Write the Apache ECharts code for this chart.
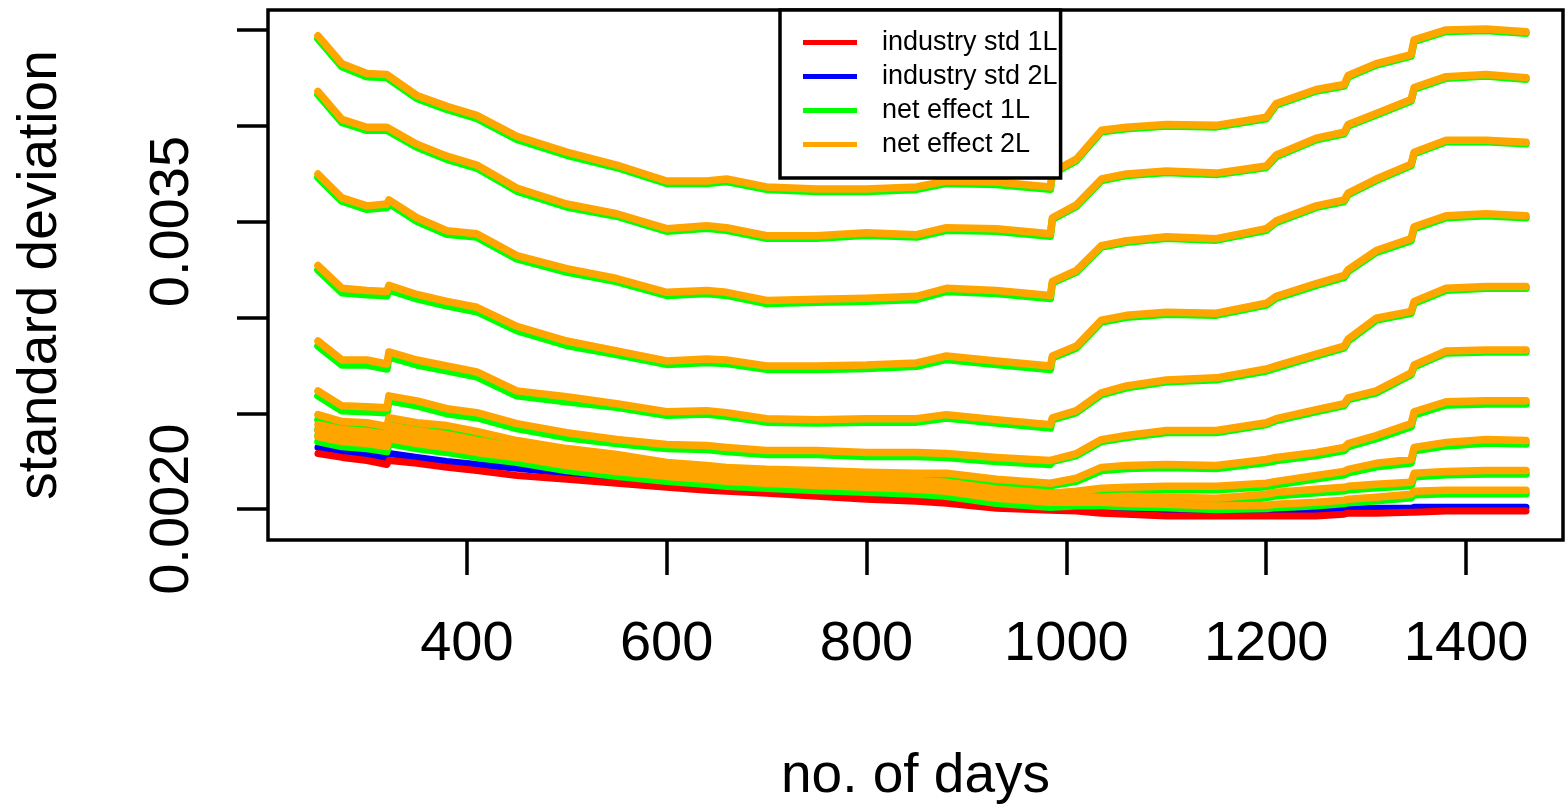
<!DOCTYPE html>
<html><head><meta charset="utf-8">
<script src="https://cdn.jsdelivr.net/npm/echarts@6/dist/echarts.min.js"></script>
<style>html,body{margin:0;padding:0;background:#fff}#c{width:1565px;height:809px}</style>
</head><body><div id="c"></div>
<script>
// x values: no. of days
const days = [251,275,300,320,322,350,380,410,450,500,550,600,640,660,700,750,800,850,880,930,984,986,1010,1035,1060,1100,1150,1200,1210,1250,1278,1282,1310,1345,1348,1380,1420,1460];
const xTicks = [400,600,800,1000,1200,1400];
const yTicks = [0.0020,0.0025,0.0030,0.0035,0.0040,0.0045];
const yLabels = [0.0020,0.0035];

// industry std
const industryStd1L = [0.002290,0.002270,0.002254,0.002233,0.002254,0.002239,0.002218,0.002202,0.002176,0.002156,0.002135,0.002114,0.002099,0.002093,0.002083,0.002067,0.002052,0.002041,0.002031,0.002005,0.001995,0.001995,0.001990,0.001979,0.001974,0.001964,0.001964,0.001964,0.001964,0.001964,0.001974,0.001979,0.001979,0.001984,0.001984,0.001990,0.001990,0.001990];
const industryStd2L = [0.002322,0.002301,0.002285,0.002265,0.002290,0.002270,0.002249,0.002233,0.002213,0.002187,0.002161,0.002140,0.002124,0.002114,0.002109,0.002093,0.002078,0.002067,0.002057,0.002026,0.002016,0.002016,0.002010,0.002005,0.002000,0.001990,0.001990,0.001990,0.001990,0.001990,0.001995,0.002000,0.002005,0.002005,0.002010,0.002010,0.002010,0.002010];

// net effect 1L (green)
const net1L_1 = [0.004453,0.004308,0.004256,0.004251,0.004251,0.004142,0.004085,0.004038,0.003929,0.003846,0.003782,0.003699,0.003699,0.003709,0.003668,0.003657,0.003657,0.003668,0.003699,0.003694,0.003668,0.003750,0.003818,0.003968,0.003984,0.003999,0.003994,0.004036,0.004108,0.004181,0.004207,0.004254,0.004316,0.004363,0.004440,0.004492,0.004497,0.004482];
const net1L_2 = [0.004163,0.004017,0.003976,0.003976,0.003986,0.003888,0.003825,0.003779,0.003659,0.003576,0.003528,0.003450,0.003465,0.003455,0.003413,0.003413,0.003429,0.003419,0.003455,0.003450,0.003424,0.003512,0.003579,0.003714,0.003740,0.003756,0.003745,0.003782,0.003839,0.003927,0.003958,0.003999,0.004056,0.004129,0.004191,0.004248,0.004259,0.004243];
const net1L_3 = [0.003730,0.003606,0.003564,0.003574,0.003595,0.003502,0.003434,0.003419,0.003305,0.003237,0.003187,0.003115,0.003125,0.003115,0.003073,0.003079,0.003084,0.003094,0.003136,0.003125,0.003099,0.003180,0.003237,0.003367,0.003392,0.003413,0.003403,0.003455,0.003496,0.003574,0.003605,0.003641,0.003714,0.003792,0.003854,0.003916,0.003916,0.003906];
const net1L_4 = [0.003248,0.003129,0.003118,0.003113,0.003144,0.003097,0.003061,0.003030,0.002931,0.002854,0.002807,0.002755,0.002765,0.002760,0.002729,0.002729,0.002734,0.002745,0.002781,0.002755,0.002729,0.002789,0.002841,0.002976,0.003001,0.003017,0.003012,0.003064,0.003100,0.003167,0.003209,0.003240,0.003339,0.003401,0.003463,0.003520,0.003531,0.003520];
const net1L_5 = [0.002851,0.002752,0.002752,0.002731,0.002794,0.002752,0.002721,0.002690,0.002591,0.002560,0.002532,0.002490,0.002496,0.002485,0.002454,0.002449,0.002454,0.002454,0.002475,0.002449,0.002423,0.002467,0.002504,0.002597,0.002633,0.002664,0.002675,0.002721,0.002737,0.002799,0.002841,0.002877,0.002986,0.003022,0.003074,0.003142,0.003152,0.003152];
const net1L_6 = [0.002591,0.002513,0.002508,0.002503,0.002565,0.002539,0.002498,0.002477,0.002420,0.002373,0.002342,0.002316,0.002311,0.002301,0.002285,0.002285,0.002275,0.002275,0.002269,0.002249,0.002233,0.002249,0.002280,0.002353,0.002374,0.002400,0.002400,0.002441,0.002462,0.002509,0.002540,0.002571,0.002607,0.002701,0.002742,0.002815,0.002820,0.002820];
const net1L_7 = [0.002467,0.002431,0.002425,0.002405,0.002451,0.002425,0.002410,0.002379,0.002332,0.002290,0.002259,0.002218,0.002202,0.002192,0.002182,0.002176,0.002166,0.002161,0.002161,0.002130,0.002109,0.002124,0.002145,0.002202,0.002212,0.002217,0.002212,0.002243,0.002254,0.002280,0.002306,0.002326,0.002368,0.002430,0.002492,0.002544,0.002549,0.002549];
const net1L_8 = [0.002415,0.002389,0.002379,0.002363,0.002410,0.002384,0.002363,0.002332,0.002296,0.002254,0.002223,0.002192,0.002171,0.002161,0.002150,0.002145,0.002135,0.002124,0.002114,0.002078,0.002057,0.002065,0.002075,0.002091,0.002096,0.002101,0.002101,0.002117,0.002127,0.002158,0.002179,0.002190,0.002221,0.002241,0.002304,0.002330,0.002345,0.002340];
const net1L_9 = [0.002384,0.002358,0.002347,0.002332,0.002373,0.002347,0.002327,0.002301,0.002270,0.002228,0.002197,0.002166,0.002150,0.002140,0.002130,0.002119,0.002109,0.002098,0.002088,0.002052,0.002031,0.002039,0.002044,0.002044,0.002049,0.002044,0.002039,0.002060,0.002070,0.002086,0.002096,0.002101,0.002112,0.002122,0.002169,0.002179,0.002184,0.002184];
const net1L_10 = [0.002353,0.002327,0.002316,0.002301,0.002342,0.002316,0.002296,0.002270,0.002244,0.002202,0.002171,0.002145,0.002130,0.002119,0.002109,0.002098,0.002088,0.002078,0.002067,0.002031,0.002010,0.002018,0.002018,0.002018,0.002013,0.002008,0.001998,0.002003,0.002008,0.002018,0.002029,0.002034,0.002044,0.002060,0.002075,0.002081,0.002081,0.002081];

// net effect 2L (orange)
const net2L_1 = [0.004469,0.004324,0.004272,0.004267,0.004267,0.004158,0.004101,0.004054,0.003945,0.003862,0.003795,0.003712,0.003712,0.003722,0.003681,0.003670,0.003670,0.003681,0.003712,0.003707,0.003681,0.003758,0.003826,0.003976,0.003992,0.004007,0.004002,0.004044,0.004116,0.004189,0.004215,0.004262,0.004324,0.004371,0.004448,0.004500,0.004505,0.004490];
const net2L_2 = [0.004179,0.004033,0.003992,0.003992,0.004002,0.003904,0.003841,0.003795,0.003675,0.003592,0.003541,0.003463,0.003478,0.003468,0.003426,0.003426,0.003442,0.003432,0.003468,0.003463,0.003437,0.003520,0.003587,0.003722,0.003748,0.003764,0.003753,0.003790,0.003847,0.003935,0.003966,0.004007,0.004064,0.004137,0.004199,0.004256,0.004267,0.004251];
const net2L_3 = [0.003748,0.003624,0.003582,0.003592,0.003613,0.003520,0.003452,0.003437,0.003323,0.003255,0.003203,0.003131,0.003141,0.003131,0.003089,0.003095,0.003100,0.003110,0.003152,0.003141,0.003115,0.003188,0.003245,0.003375,0.003400,0.003421,0.003411,0.003463,0.003504,0.003582,0.003613,0.003649,0.003722,0.003800,0.003862,0.003924,0.003924,0.003914];
const net2L_4 = [0.003271,0.003152,0.003141,0.003136,0.003167,0.003120,0.003084,0.003053,0.002954,0.002877,0.002825,0.002773,0.002783,0.002778,0.002747,0.002747,0.002752,0.002763,0.002799,0.002773,0.002747,0.002799,0.002851,0.002986,0.003011,0.003027,0.003022,0.003074,0.003110,0.003177,0.003219,0.003250,0.003349,0.003411,0.003473,0.003530,0.003541,0.003530];
const net2L_5 = [0.002877,0.002778,0.002778,0.002757,0.002820,0.002778,0.002747,0.002716,0.002617,0.002586,0.002550,0.002508,0.002514,0.002503,0.002472,0.002467,0.002472,0.002472,0.002493,0.002467,0.002441,0.002477,0.002514,0.002607,0.002643,0.002674,0.002685,0.002731,0.002747,0.002809,0.002851,0.002887,0.002996,0.003032,0.003084,0.003152,0.003162,0.003162];
const net2L_6 = [0.002617,0.002539,0.002534,0.002529,0.002591,0.002565,0.002524,0.002503,0.002446,0.002399,0.002363,0.002337,0.002332,0.002322,0.002306,0.002306,0.002296,0.002296,0.002290,0.002270,0.002254,0.002259,0.002290,0.002363,0.002384,0.002410,0.002410,0.002451,0.002472,0.002519,0.002550,0.002581,0.002617,0.002711,0.002752,0.002825,0.002830,0.002830];
const net2L_7 = [0.002493,0.002457,0.002451,0.002431,0.002477,0.002451,0.002436,0.002405,0.002358,0.002316,0.002285,0.002244,0.002228,0.002218,0.002208,0.002202,0.002192,0.002187,0.002187,0.002156,0.002135,0.002140,0.002161,0.002218,0.002228,0.002233,0.002228,0.002259,0.002270,0.002296,0.002322,0.002342,0.002384,0.002446,0.002508,0.002560,0.002565,0.002565];
const net2L_8 = [0.002441,0.002415,0.002405,0.002389,0.002436,0.002410,0.002389,0.002358,0.002322,0.002280,0.002249,0.002218,0.002197,0.002187,0.002176,0.002171,0.002161,0.002150,0.002140,0.002104,0.002083,0.002083,0.002093,0.002109,0.002114,0.002119,0.002119,0.002135,0.002145,0.002176,0.002197,0.002208,0.002239,0.002259,0.002322,0.002348,0.002363,0.002358];
const net2L_9 = [0.002410,0.002384,0.002373,0.002358,0.002399,0.002373,0.002353,0.002327,0.002296,0.002254,0.002223,0.002192,0.002176,0.002166,0.002156,0.002145,0.002135,0.002124,0.002114,0.002078,0.002057,0.002057,0.002062,0.002062,0.002067,0.002062,0.002057,0.002078,0.002088,0.002104,0.002114,0.002119,0.002130,0.002140,0.002187,0.002197,0.002202,0.002202];
const net2L_10 = [0.002379,0.002353,0.002342,0.002327,0.002368,0.002342,0.002322,0.002296,0.002270,0.002228,0.002197,0.002171,0.002156,0.002145,0.002135,0.002124,0.002114,0.002104,0.002093,0.002057,0.002036,0.002036,0.002036,0.002036,0.002031,0.002026,0.002016,0.002021,0.002026,0.002036,0.002047,0.002052,0.002062,0.002078,0.002093,0.002099,0.002099,0.002099];

const net1L = [net1L_1,net1L_2,net1L_3,net1L_4,net1L_5,net1L_6,net1L_7,net1L_8,net1L_9,net1L_10];
const net2L = [net2L_1,net2L_2,net2L_3,net2L_4,net2L_5,net2L_6,net2L_7,net2L_8,net2L_9,net2L_10];

const FONT = "'Liberation Sans', Arial, Helvetica, sans-serif";
function mk(name, color, vals, w) {
  return {
    type: 'line', name: name,
    data: days.map((d, i) => [d, vals[i]]),
    symbol: 'none', showSymbol: false, silent: true, animation: false,
    lineStyle: { color: color, width: w, cap: 'round', join: 'round' },
    itemStyle: { color: color }
  };
}
const series = [];
series.push(mk('industry std 2L', '#0000FF', industryStd2L, 7));
series.push(mk('industry std 1L', '#FF0000', industryStd1L, 7));
net1L.forEach(v => series.push(mk('net effect 1L', '#00FF00', v, 7.5)));
net2L.forEach(v => series.push(mk('net effect 2L', '#FFA500', v, 7.5)));

const chart = echarts.init(document.getElementById('c'), null, { renderer: 'canvas' });
chart.setOption({
  animation: false,
  backgroundColor: '#fff',
  grid: { left: 268, top: 10, width: 1295, height: 533, show: true, borderColor: '#000', borderWidth: 3.5, backgroundColor: 'transparent' },
  legend: {
    data: ['industry std 1L', 'industry std 2L', 'net effect 1L', 'net effect 2L'],
    orient: 'vertical', left: 780, top: 10,
    backgroundColor: '#fff', borderColor: '#000', borderWidth: 3.5, borderRadius: 0,
    padding: [19, 3, 20, 23],
    icon: 'rect',
    itemWidth: 54, itemHeight: 5, itemGap: 7,
    selectedMode: false,
    textStyle: { fontSize: 27, color: '#000', fontFamily: FONT, padding: [0, 0, 0, 20], lineHeight: 27 }
  },
  xAxis: {
    type: 'value', min: 201, max: 1497,
    name: 'no. of days', nameLocation: 'middle', nameGap: 209,
    nameTextStyle: { fontSize: 55, color: '#000', fontFamily: FONT },
    axisLine: { show: false },
    splitLine: { show: false },
    axisTick: { show: true, inside: false, length: 35, customValues: xTicks, lineStyle: { color: '#000', width: 3.5 } },
    axisLabel: { customValues: xTicks, fontSize: 56, color: '#000', fontFamily: FONT, margin: 77,
      formatter: v => String(v) }
  },
  yAxis: {
    type: 'value', min: 0.0018392, max: 0.0046037,
    name: 'standard deviation', nameLocation: 'middle', nameGap: 200,
    nameTextStyle: { fontSize: 55, color: '#000', fontFamily: FONT },
    axisLine: { show: false },
    splitLine: { show: false },
    axisTick: { show: true, inside: false, length: 31, customValues: yTicks, lineStyle: { color: '#000', width: 3.5 } },
    axisLabel: { customValues: yLabels, rotate: 90, fontSize: 56, color: '#000', fontFamily: FONT, margin: 67,
      formatter: v => Number(v).toFixed(4) }
  },
  series: series
});
</script></body></html>
